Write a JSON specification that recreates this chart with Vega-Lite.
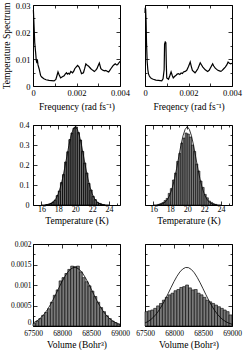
{
"$schema": "https://vega.github.io/schema/vega-lite/v6.json",
"padding": {"left": 0, "top": 0, "right": 0, "bottom": 0},
"autosize": {"type": "pad"},
"columns": 2,
"spacing": {"row": 39, "column": 25},
"bounds": "flush",
"datasets": {
"specL": [
{"f":0,"s":0.028},{"f":0.00002,"s":0.0278},{"f":0.00005,"s":0.022},{"f":0.00008,"s":0.016},{"f":0.00012,"s":0.0125},{"f":0.00015,"s":0.0095},{"f":0.00018,"s":0.0085},{"f":0.0002,"s":0.0098},{"f":0.00023,"s":0.0078},{"f":0.00028,"s":0.0064},{"f":0.00035,"s":0.0039},{"f":0.0004,"s":0.0033},{"f":0.0005,"s":0.0027},{"f":0.0006,"s":0.0023},{"f":0.00074,"s":0.0021},{"f":0.00085,"s":0.002},{"f":0.00097,"s":0.0019},{"f":0.00105,"s":0.0024},{"f":0.0011,"s":0.0038},{"f":0.00115,"s":0.0052},{"f":0.0012,"s":0.0042},{"f":0.00127,"s":0.003},{"f":0.00135,"s":0.0034},{"f":0.00143,"s":0.0038},{"f":0.00148,"s":0.0044},{"f":0.00154,"s":0.0049},{"f":0.00158,"s":0.0044},{"f":0.00163,"s":0.0047},{"f":0.00168,"s":0.0044},{"f":0.00174,"s":0.0054},{"f":0.00182,"s":0.0049},{"f":0.00188,"s":0.0056},{"f":0.00192,"s":0.0064},{"f":0.002,"s":0.0072},{"f":0.00205,"s":0.0076},{"f":0.00212,"s":0.007},{"f":0.00218,"s":0.0058},{"f":0.00223,"s":0.0046},{"f":0.00232,"s":0.0049},{"f":0.00238,"s":0.0066},{"f":0.00243,"s":0.0082},{"f":0.0025,"s":0.0076},{"f":0.00255,"s":0.0074},{"f":0.00266,"s":0.0064},{"f":0.00275,"s":0.0058},{"f":0.00282,"s":0.0054},{"f":0.00288,"s":0.0058},{"f":0.00294,"s":0.0064},{"f":0.003,"s":0.0076},{"f":0.00305,"s":0.0085},{"f":0.00312,"s":0.0064},{"f":0.00318,"s":0.006},{"f":0.00323,"s":0.0058},{"f":0.0033,"s":0.0056},{"f":0.00335,"s":0.0058},{"f":0.00342,"s":0.0054},{"f":0.00348,"s":0.0052},{"f":0.00353,"s":0.0058},{"f":0.00358,"s":0.0064},{"f":0.00365,"s":0.0072},{"f":0.00369,"s":0.0076},{"f":0.00378,"s":0.0082},{"f":0.00384,"s":0.0078},{"f":0.00389,"s":0.0079},{"f":0.00395,"s":0.0086},{"f":0.004,"s":0.0091}
],
"specR": [
{"f":0,"s":0.027},{"f":0.00001,"s":0.029},{"f":0.00003,"s":0.0285},{"f":0.00005,"s":0.024},{"f":0.00007,"s":0.016},{"f":0.0001,"s":0.009},{"f":0.00013,"s":0.006},{"f":0.00016,"s":0.0045},{"f":0.0002,"s":0.0037},{"f":0.00025,"s":0.0031},{"f":0.0003,"s":0.0028},{"f":0.00038,"s":0.0025},{"f":0.0005,"s":0.0022},{"f":0.00062,"s":0.0021},{"f":0.00077,"s":0.0019},{"f":0.00083,"s":0.0027},{"f":0.00088,"s":0.006},{"f":0.0009,"s":0.0155},{"f":0.00093,"s":0.0163},{"f":0.00096,"s":0.016},{"f":0.00098,"s":0.008},{"f":0.001,"s":0.003},{"f":0.00108,"s":0.0025},{"f":0.00114,"s":0.0038},{"f":0.0012,"s":0.0052},{"f":0.00125,"s":0.004},{"f":0.0013,"s":0.003},{"f":0.00137,"s":0.0036},{"f":0.00143,"s":0.004},{"f":0.00148,"s":0.0044},{"f":0.00154,"s":0.0046},{"f":0.0016,"s":0.0043},{"f":0.00166,"s":0.0048},{"f":0.00172,"s":0.0046},{"f":0.00177,"s":0.0052},{"f":0.00185,"s":0.0054},{"f":0.00192,"s":0.0058},{"f":0.002,"s":0.0072},{"f":0.00208,"s":0.0089},{"f":0.00213,"s":0.0072},{"f":0.00218,"s":0.0058},{"f":0.0023,"s":0.0049},{"f":0.00236,"s":0.0055},{"f":0.00243,"s":0.0064},{"f":0.00254,"s":0.0086},{"f":0.0026,"s":0.0078},{"f":0.00266,"s":0.007},{"f":0.00277,"s":0.006},{"f":0.00288,"s":0.0054},{"f":0.00295,"s":0.0058},{"f":0.003,"s":0.0066},{"f":0.00311,"s":0.0082},{"f":0.00316,"s":0.0074},{"f":0.00323,"s":0.0066},{"f":0.00335,"s":0.0058},{"f":0.00342,"s":0.0056},{"f":0.00349,"s":0.0054},{"f":0.00355,"s":0.0058},{"f":0.00362,"s":0.0064},{"f":0.00369,"s":0.007},{"f":0.00376,"s":0.0078},{"f":0.00382,"s":0.0089},{"f":0.00388,"s":0.0084},{"f":0.00394,"s":0.0082},{"f":0.004,"s":0.0084}
],
"tempL": [
{"lo":16.5,"hi":16.75,"v":0.002},{"lo":16.75,"hi":17,"v":0.004},{"lo":17,"hi":17.25,"v":0.008},{"lo":17.25,"hi":17.5,"v":0.015},{"lo":17.5,"hi":17.75,"v":0.024},{"lo":17.75,"hi":18,"v":0.047},{"lo":18,"hi":18.25,"v":0.07},{"lo":18.25,"hi":18.5,"v":0.112},{"lo":18.5,"hi":18.75,"v":0.152},{"lo":18.75,"hi":19,"v":0.215},{"lo":19,"hi":19.25,"v":0.266},{"lo":19.25,"hi":19.5,"v":0.327},{"lo":19.5,"hi":19.75,"v":0.36},{"lo":19.75,"hi":20,"v":0.385},{"lo":20,"hi":20.25,"v":0.39},{"lo":20.25,"hi":20.5,"v":0.362},{"lo":20.5,"hi":20.75,"v":0.325},{"lo":20.75,"hi":21,"v":0.268},{"lo":21,"hi":21.25,"v":0.21},{"lo":21.25,"hi":21.5,"v":0.16},{"lo":21.5,"hi":21.75,"v":0.108},{"lo":21.75,"hi":22,"v":0.075},{"lo":22,"hi":22.25,"v":0.043},{"lo":22.25,"hi":22.5,"v":0.027},{"lo":22.5,"hi":22.75,"v":0.013},{"lo":22.75,"hi":23,"v":0.008},{"lo":23,"hi":23.25,"v":0.003},{"lo":23.25,"hi":23.5,"v":0.001}
],
"tempR": [
{"lo":16.5,"hi":16.75,"v":0.003},{"lo":16.75,"hi":17,"v":0.007},{"lo":17,"hi":17.25,"v":0.012},{"lo":17.25,"hi":17.5,"v":0.022},{"lo":17.5,"hi":17.75,"v":0.033},{"lo":17.75,"hi":18,"v":0.058},{"lo":18,"hi":18.25,"v":0.082},{"lo":18.25,"hi":18.5,"v":0.125},{"lo":18.5,"hi":18.75,"v":0.16},{"lo":18.75,"hi":19,"v":0.218},{"lo":19,"hi":19.25,"v":0.258},{"lo":19.25,"hi":19.5,"v":0.31},{"lo":19.5,"hi":19.75,"v":0.335},{"lo":19.75,"hi":20,"v":0.36},{"lo":20,"hi":20.25,"v":0.355},{"lo":20.25,"hi":20.5,"v":0.34},{"lo":20.5,"hi":20.75,"v":0.3},{"lo":20.75,"hi":21,"v":0.268},{"lo":21,"hi":21.25,"v":0.205},{"lo":21.25,"hi":21.5,"v":0.17},{"lo":21.5,"hi":21.75,"v":0.12},{"lo":21.75,"hi":22,"v":0.088},{"lo":22,"hi":22.25,"v":0.053},{"lo":22.25,"hi":22.5,"v":0.036},{"lo":22.5,"hi":22.75,"v":0.02},{"lo":22.75,"hi":23,"v":0.013},{"lo":23,"hi":23.25,"v":0.006},{"lo":23.25,"hi":23.5,"v":0.003}
],
"tempCurve": [
{"t":16,"p":0.0002},{"t":16.25,"p":0.00045},{"t":16.5,"p":0.001},{"t":16.75,"p":0.0024},{"t":17,"p":0.005},{"t":17.25,"p":0.0103},{"t":17.5,"p":0.019},{"t":17.75,"p":0.034},{"t":18,"p":0.057},{"t":18.25,"p":0.0895},{"t":18.5,"p":0.132},{"t":18.75,"p":0.184},{"t":19,"p":0.241},{"t":19.25,"p":0.298},{"t":19.5,"p":0.346},{"t":19.75,"p":0.378},{"t":20,"p":0.392},{"t":20.25,"p":0.378},{"t":20.5,"p":0.346},{"t":20.75,"p":0.298},{"t":21,"p":0.241},{"t":21.25,"p":0.184},{"t":21.5,"p":0.132},{"t":21.75,"p":0.0895},{"t":22,"p":0.057},{"t":22.25,"p":0.034},{"t":22.5,"p":0.019},{"t":22.75,"p":0.0103},{"t":23,"p":0.005},{"t":23.25,"p":0.0024},{"t":23.5,"p":0.001},{"t":23.75,"p":0.00045},{"t":24,"p":0.0002}
],
"volL": [
{"lo":67500,"hi":67550,"v":0.00006},{"lo":67550,"hi":67600,"v":0.00012},{"lo":67600,"hi":67650,"v":0.00018},{"lo":67650,"hi":67700,"v":0.00026},{"lo":67700,"hi":67750,"v":0.00033},{"lo":67750,"hi":67800,"v":0.00042},{"lo":67800,"hi":67850,"v":0.00058},{"lo":67850,"hi":67900,"v":0.00075},{"lo":67900,"hi":67950,"v":0.00088},{"lo":67950,"hi":68000,"v":0.0011},{"lo":68000,"hi":68050,"v":0.00118},{"lo":68050,"hi":68100,"v":0.00128},{"lo":68100,"hi":68150,"v":0.00138},{"lo":68150,"hi":68200,"v":0.00146},{"lo":68200,"hi":68250,"v":0.00145},{"lo":68250,"hi":68300,"v":0.00146},{"lo":68300,"hi":68350,"v":0.00132},{"lo":68350,"hi":68400,"v":0.00118},{"lo":68400,"hi":68450,"v":0.00108},{"lo":68450,"hi":68500,"v":0.00098},{"lo":68500,"hi":68550,"v":0.00085},{"lo":68550,"hi":68600,"v":0.00072},{"lo":68600,"hi":68650,"v":0.00058},{"lo":68650,"hi":68700,"v":0.00045},{"lo":68700,"hi":68750,"v":0.00035},{"lo":68750,"hi":68800,"v":0.00025},{"lo":68800,"hi":68850,"v":0.00018},{"lo":68850,"hi":68900,"v":0.00012},{"lo":68900,"hi":68950,"v":0.00008},{"lo":68950,"hi":69000,"v":0.00004}
],
"volR": [
{"lo":67500,"hi":67550,"v":0.00035},{"lo":67550,"hi":67600,"v":0.00037},{"lo":67600,"hi":67650,"v":0.00039},{"lo":67650,"hi":67700,"v":0.00043},{"lo":67700,"hi":67750,"v":0.00049},{"lo":67750,"hi":67800,"v":0.00055},{"lo":67800,"hi":67850,"v":0.00063},{"lo":67850,"hi":67900,"v":0.0007},{"lo":67900,"hi":67950,"v":0.00076},{"lo":67950,"hi":68000,"v":0.0008},{"lo":68000,"hi":68050,"v":0.00086},{"lo":68050,"hi":68100,"v":0.00089},{"lo":68100,"hi":68150,"v":0.00094},{"lo":68150,"hi":68200,"v":0.00096},{"lo":68200,"hi":68250,"v":0.001},{"lo":68250,"hi":68300,"v":0.00093},{"lo":68300,"hi":68350,"v":0.00088},{"lo":68350,"hi":68400,"v":0.00089},{"lo":68400,"hi":68450,"v":0.0008},{"lo":68450,"hi":68500,"v":0.00076},{"lo":68500,"hi":68550,"v":0.0007},{"lo":68550,"hi":68600,"v":0.00063},{"lo":68600,"hi":68650,"v":0.00059},{"lo":68650,"hi":68700,"v":0.00055},{"lo":68700,"hi":68750,"v":0.00051},{"lo":68750,"hi":68800,"v":0.00047},{"lo":68800,"hi":68850,"v":0.00043},{"lo":68850,"hi":68900,"v":0.00039},{"lo":68900,"hi":68950,"v":0.00035},{"lo":68950,"hi":69000,"v":0.00027}
],
"volCurve": [
{"x":67500,"p":0.000073},{"x":67550,"p":0.000108},{"x":67600,"p":0.000157},{"x":67650,"p":0.000221},{"x":67700,"p":0.000302},{"x":67750,"p":0.000402},{"x":67800,"p":0.000519},{"x":67850,"p":0.000651},{"x":67900,"p":0.000794},{"x":67950,"p":0.000941},{"x":68000,"p":0.001083},{"x":68050,"p":0.001211},{"x":68100,"p":0.001316},{"x":68150,"p":0.00139},{"x":68200,"p":0.001427},{"x":68250,"p":0.001423},{"x":68300,"p":0.001378},{"x":68350,"p":0.001298},{"x":68400,"p":0.001187},{"x":68450,"p":0.001055},{"x":68500,"p":0.000911},{"x":68550,"p":0.000765},{"x":68600,"p":0.000624},{"x":68650,"p":0.000494},{"x":68700,"p":0.000381},{"x":68750,"p":0.000285},{"x":68800,"p":0.000207},{"x":68850,"p":0.000146},{"x":68900,"p":0.0001},{"x":68950,"p":0.000067},{"x":69000,"p":0.000043}
]
},
"concat": [
{
"width": 87, "height": 81,
"layer": [
{"data": {"name": "specL"}, "mark": {"type": "line", "color": "black", "strokeWidth": 1.2},
"encoding": {
"x": {"field": "f", "type": "quantitative", "scale": {"domain": [0, 0.004], "nice": false}, "axis": {"orient": "bottom", "values": [0,0.001,0.002,0.003,0.004], "format": "~g", "labelExpr": "indexof(['0','0.002','0.004'], datum.label) >= 0 ? datum.label : ''", "tickSize": -3, "labelPadding": 5, "labelFontSize": 8.5, "titlePadding": 5, "title": "Frequency (rad fs⁻¹)"}},
"y": {"field": "s", "type": "quantitative", "scale": {"domain": [0, 0.03], "nice": false}, "axis": {"orient": "left", "values": [0,0.005,0.01,0.015,0.02,0.025,0.03], "format": "~g", "labelExpr": "indexof(['0','0.01','0.02','0.03'], datum.label) >= 0 ? datum.label : ''", "tickSize": {"condition": {"test": "indexof(['0','0.01','0.02','0.03'], format(datum.value,'~g')) >= 0", "value": -4}, "value": -2}, "labelPadding": 7, "labelFontSize": 8.5, "titlePadding": 4, "title": "Temperature Spectrum"}}
}},
{"data": {"name": "specL"}, "mark": {"type": "line", "opacity": 0},
"encoding": {
"x": {"field": "f", "type": "quantitative", "axis": {"orient": "top", "values": [0,0.001,0.002,0.003,0.004], "labels": false, "tickSize": -3, "title": null}},
"y": {"field": "s", "type": "quantitative", "axis": {"orient": "right", "values": [0,0.005,0.01,0.015,0.02,0.025,0.03], "labels": false, "tickSize": {"condition": {"test": "indexof(['0','0.01','0.02','0.03'], format(datum.value,'~g')) >= 0", "value": -4}, "value": -2}, "title": null}}
}}
],
"resolve": {"axis": {"x": "independent", "y": "independent"}}
},
{
"width": 87, "height": 81,
"layer": [
{"data": {"name": "specR"}, "mark": {"type": "line", "color": "black", "strokeWidth": 1.2},
"encoding": {
"x": {"field": "f", "type": "quantitative", "scale": {"domain": [0, 0.004], "nice": false}, "axis": {"orient": "bottom", "values": [0,0.001,0.002,0.003,0.004], "format": "~g", "labelExpr": "indexof(['0','0.002','0.004'], datum.label) >= 0 ? datum.label : ''", "tickSize": -3, "labelPadding": 5, "labelFontSize": 8.5, "titlePadding": 5, "title": "Freqency (rad fs⁻¹)"}},
"y": {"field": "s", "type": "quantitative", "scale": {"domain": [0, 0.03], "nice": false}, "axis": {"orient": "left", "values": [0,0.005,0.01,0.015,0.02,0.025,0.03], "labels": false, "tickSize": {"condition": {"test": "indexof(['0','0.01','0.02','0.03'], format(datum.value,'~g')) >= 0", "value": -4}, "value": -2}, "title": null}}
}},
{"data": {"name": "specR"}, "mark": {"type": "line", "opacity": 0},
"encoding": {
"x": {"field": "f", "type": "quantitative", "axis": {"orient": "top", "values": [0,0.001,0.002,0.003,0.004], "labels": false, "tickSize": -3, "title": null}},
"y": {"field": "s", "type": "quantitative", "axis": {"orient": "right", "values": [0,0.005,0.01,0.015,0.02,0.025,0.03], "labels": false, "tickSize": {"condition": {"test": "indexof(['0','0.01','0.02','0.03'], format(datum.value,'~g')) >= 0", "value": -4}, "value": -2}, "title": null}}
}}
],
"resolve": {"axis": {"x": "independent", "y": "independent"}}
},
{
"width": 87, "height": 80,
"layer": [
{"data": {"name": "tempL"}, "mark": {"type": "rect", "fill": "#6e6e6e", "stroke": "black", "strokeWidth": 0.8},
"encoding": {
"x": {"field": "lo", "type": "quantitative", "scale": {"domain": [15, 25.3], "nice": false, "zero": false}, "axis": {"orient": "bottom", "values": [15,16,17,18,19,20,21,22,23,24,25], "format": "~g", "labelExpr": "indexof(['16','18','20','22','24'], datum.label) >= 0 ? datum.label : ''", "tickSize": {"condition": {"test": "indexof(['16','18','20','22','24'], format(datum.value,'~g')) >= 0", "value": -4}, "value": -2}, "labelPadding": 4, "labelFontSize": 8, "titlePadding": 0, "title": "Temperature (K)"}},
"x2": {"field": "hi"},
"y": {"field": "v", "type": "quantitative", "scale": {"domain": [0, 0.4], "nice": false}, "axis": {"orient": "left", "values": [0,0.05,0.1,0.15,0.2,0.25,0.3,0.35,0.4], "format": "~g", "labelExpr": "indexof(['0','0.1','0.2','0.3','0.4'], datum.label) >= 0 ? datum.label : ''", "tickSize": {"condition": {"test": "indexof(['0','0.1','0.2','0.3','0.4'], format(datum.value,'~g')) >= 0", "value": -4}, "value": -2}, "labelPadding": 8, "labelFontSize": 8, "title": null}},
"y2": {"datum": 0}
}},
{"data": {"name": "tempCurve"}, "mark": {"type": "line", "color": "black", "strokeWidth": 0.8},
"encoding": {
"x": {"field": "t", "type": "quantitative", "axis": {"orient": "top", "values": [15,16,17,18,19,20,21,22,23,24,25], "labels": false, "tickSize": {"condition": {"test": "indexof(['16','18','20','22','24'], format(datum.value,'~g')) >= 0", "value": -4}, "value": -2}, "title": null}},
"y": {"field": "p", "type": "quantitative", "axis": {"orient": "right", "values": [0,0.05,0.1,0.15,0.2,0.25,0.3,0.35,0.4], "labels": false, "tickSize": {"condition": {"test": "indexof(['0','0.1','0.2','0.3','0.4'], format(datum.value,'~g')) >= 0", "value": -4}, "value": -2}, "title": null}}
}}
],
"resolve": {"axis": {"x": "independent", "y": "independent"}}
},
{
"width": 87, "height": 80,
"layer": [
{"data": {"name": "tempR"}, "mark": {"type": "rect", "fill": "#7a7a7a", "stroke": "black", "strokeWidth": 0.6},
"encoding": {
"x": {"field": "lo", "type": "quantitative", "scale": {"domain": [15, 25.3], "nice": false, "zero": false}, "axis": {"orient": "bottom", "values": [15,16,17,18,19,20,21,22,23,24,25], "format": "~g", "labelExpr": "indexof(['16','18','20','22','24'], datum.label) >= 0 ? datum.label : ''", "tickSize": {"condition": {"test": "indexof(['16','18','20','22','24'], format(datum.value,'~g')) >= 0", "value": -4}, "value": -2}, "labelPadding": 4, "labelFontSize": 8, "titlePadding": 0, "title": "Temperature (K)"}},
"x2": {"field": "hi"},
"y": {"field": "v", "type": "quantitative", "scale": {"domain": [0, 0.4], "nice": false}, "axis": {"orient": "left", "values": [0,0.05,0.1,0.15,0.2,0.25,0.3,0.35,0.4], "labels": false, "tickSize": {"condition": {"test": "indexof(['0','0.1','0.2','0.3','0.4'], format(datum.value,'~g')) >= 0", "value": -4}, "value": -2}, "title": null}},
"y2": {"datum": 0}
}},
{"data": {"name": "tempCurve"}, "mark": {"type": "line", "color": "black", "strokeWidth": 0.8},
"encoding": {
"x": {"field": "t", "type": "quantitative", "axis": {"orient": "top", "values": [15,16,17,18,19,20,21,22,23,24,25], "labels": false, "tickSize": {"condition": {"test": "indexof(['16','18','20','22','24'], format(datum.value,'~g')) >= 0", "value": -4}, "value": -2}, "title": null}},
"y": {"field": "p", "type": "quantitative", "axis": {"orient": "right", "values": [0,0.05,0.1,0.15,0.2,0.25,0.3,0.35,0.4], "labels": false, "tickSize": {"condition": {"test": "indexof(['0','0.1','0.2','0.3','0.4'], format(datum.value,'~g')) >= 0", "value": -4}, "value": -2}, "title": null}}
}}
],
"resolve": {"axis": {"x": "independent", "y": "independent"}}
},
{
"width": 87, "height": 82,
"layer": [
{"data": {"name": "volL"}, "mark": {"type": "rect", "fill": "#7a7a7a", "stroke": "black", "strokeWidth": 0.6},
"encoding": {
"x": {"field": "lo", "type": "quantitative", "scale": {"domain": [67500, 69000], "nice": false, "zero": false}, "axis": {"orient": "bottom", "values": [67500,67750,68000,68250,68500,68750,69000], "format": "d", "labelExpr": "indexof(['67500','68000','68500','69000'], datum.label) >= 0 ? datum.label : ''", "tickSize": {"condition": {"test": "datum.value % 500 == 0", "value": -4}, "value": -2}, "labelPadding": 7, "labelFontSize": 7.5, "titlePadding": 1, "title": "Volume (Bohr³)"}},
"x2": {"field": "hi"},
"y": {"field": "v", "type": "quantitative", "scale": {"domain": [0, 0.002], "nice": false}, "axis": {"orient": "left", "values": [0,0.00025,0.0005,0.00075,0.001,0.00125,0.0015,0.00175,0.002], "format": "~g", "labelExpr": "indexof(['0','0.0005','0.001','0.0015','0.002'], datum.label) >= 0 ? datum.label : ''", "tickSize": {"condition": {"test": "indexof(['0','0.0005','0.001','0.0015','0.002'], format(datum.value,'~g')) >= 0", "value": -4}, "value": -2}, "labelBaseline": {"condition": {"test": "datum.value == 0", "value": "bottom"}, "value": "middle"}, "labelPadding": 6, "labelFontSize": 7.5, "title": null}},
"y2": {"datum": 0}
}},
{"data": {"name": "volCurve"}, "mark": {"type": "line", "color": "black", "strokeWidth": 0.8},
"encoding": {
"x": {"field": "x", "type": "quantitative", "axis": {"orient": "top", "values": [67500,67750,68000,68250,68500,68750,69000], "labels": false, "tickSize": {"condition": {"test": "datum.value % 500 == 0", "value": -4}, "value": -2}, "title": null}},
"y": {"field": "p", "type": "quantitative", "axis": {"orient": "right", "values": [0,0.00025,0.0005,0.00075,0.001,0.00125,0.0015,0.00175,0.002], "labels": false, "tickSize": {"condition": {"test": "indexof(['0','0.0005','0.001','0.0015','0.002'], format(datum.value,'~g')) >= 0", "value": -4}, "value": -2}, "title": null}}
}}
],
"resolve": {"axis": {"x": "independent", "y": "independent"}}
},
{
"width": 87, "height": 82,
"layer": [
{"data": {"name": "volR"}, "mark": {"type": "rect", "fill": "#7a7a7a", "stroke": "black", "strokeWidth": 0.6},
"encoding": {
"x": {"field": "lo", "type": "quantitative", "scale": {"domain": [67500, 69000], "nice": false, "zero": false}, "axis": {"orient": "bottom", "values": [67500,67750,68000,68250,68500,68750,69000], "format": "d", "labelExpr": "indexof(['67500','68000','68500','69000'], datum.label) >= 0 ? datum.label : ''", "tickSize": {"condition": {"test": "datum.value % 500 == 0", "value": -4}, "value": -2}, "labelPadding": 7, "labelFontSize": 7.5, "titlePadding": 1, "title": "Volume (Bohr³)"}},
"x2": {"field": "hi"},
"y": {"field": "v", "type": "quantitative", "scale": {"domain": [0, 0.002], "nice": false}, "axis": {"orient": "left", "values": [0,0.00025,0.0005,0.00075,0.001,0.00125,0.0015,0.00175,0.002], "labels": false, "tickSize": {"condition": {"test": "indexof(['0','0.0005','0.001','0.0015','0.002'], format(datum.value,'~g')) >= 0", "value": -4}, "value": -2}, "title": null}},
"y2": {"datum": 0}
}},
{"data": {"name": "volCurve"}, "mark": {"type": "line", "color": "black", "strokeWidth": 0.8},
"encoding": {
"x": {"field": "x", "type": "quantitative", "axis": {"orient": "top", "values": [67500,67750,68000,68250,68500,68750,69000], "labels": false, "tickSize": {"condition": {"test": "datum.value % 500 == 0", "value": -4}, "value": -2}, "title": null}},
"y": {"field": "p", "type": "quantitative", "axis": {"orient": "right", "values": [0,0.00025,0.0005,0.00075,0.001,0.00125,0.0015,0.00175,0.002], "labels": false, "tickSize": {"condition": {"test": "indexof(['0','0.0005','0.001','0.0015','0.002'], format(datum.value,'~g')) >= 0", "value": -4}, "value": -2}, "title": null}}
}}
],
"resolve": {"axis": {"x": "independent", "y": "independent"}}
}
],
"config": {
"font": "Liberation Serif",
"view": {"stroke": "black", "strokeWidth": 1},
"axis": {"domain": false, "grid": false, "labelFont": "Liberation Serif", "labelFontSize": 8, "titleFont": "Liberation Serif", "titleFontSize": 9.5, "titleFontWeight": "normal", "labelColor": "black", "titleColor": "black", "tickColor": "black", "tickWidth": 0.8, "labelFlush": false, "labelOverlap": false, "labelPadding": 2, "titlePadding": 3}
}
}
